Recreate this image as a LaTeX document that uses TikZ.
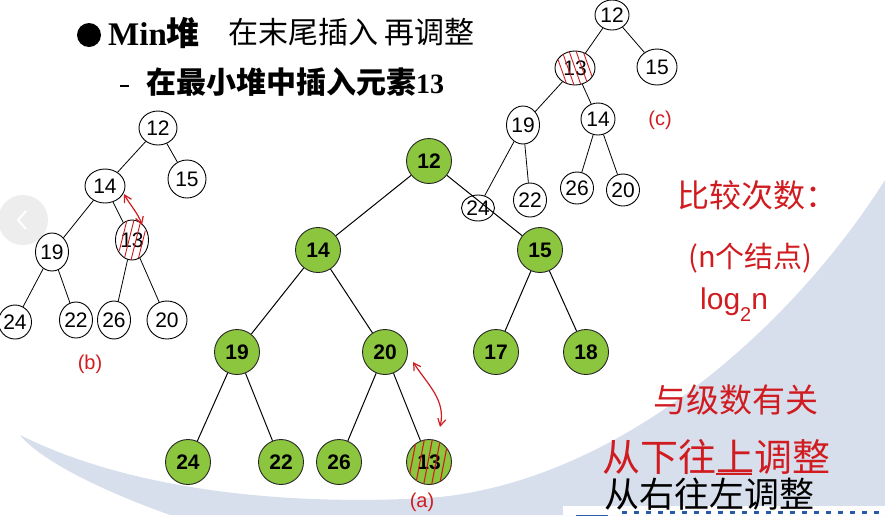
\documentclass[tikz,border=0pt]{standalone}
\usepackage{fontspec}
\setmainfont{Liberation Serif}
\newfontfamily\cjk{Noto Sans CJK SC}
\newfontfamily\arial{Liberation Sans}
\usetikzlibrary{arrows.meta,shapes.geometric}
\definecolor{hred}{RGB}{208,28,32}
\definecolor{ngreen}{RGB}{140,198,63}
\definecolor{swoosh}{RGB}{216,223,236}
\definecolor{logoblue}{RGB}{40,90,170}
\begin{document}
\begin{tikzpicture}[x=1pt,y=-1pt,
  gnode/.style={circle,fill=ngreen,draw=black!85,line width=0.9pt,minimum size=45pt,inner sep=0pt,font=\arial\bfseries\fontsize{21}{21}\selectfont},
  hnode/.style={ellipse,draw=black,line width=0.9pt,inner sep=0pt,font=\arial\fontsize{21}{21}\selectfont},
  gedge/.style={draw=black,line width=1pt},
  hedge/.style={draw=black,line width=0.8pt},
  hatch/.style={draw=hred,line width=0.9pt},
  redarrow/.style={draw=hred,line width=1.2pt,{Straight Barb[length=7pt,width=8pt]}-{Straight Barb[length=7pt,width=8pt]}},
  hand/.style={anchor=west,inner sep=0pt},
]
\useasboundingbox (0,0) rectangle (885,515);
% background swoosh
\fill[swoosh] (20,435) .. controls (150,500) and (330,505) .. (440,497)
  .. controls (620,478) and (790,330) .. (885,180) -- (885,515) -- (170,515)
  .. controls (100,490) and (40,460) .. (20,435) -- cycle;
\fill[white] (563,506) rectangle (885,515);
\fill[logoblue] (576,515) arc[start angle=180,end angle=0,x radius=16,y radius=8] -- cycle;
\draw[logoblue,line width=3pt,dash pattern=on 5pt off 7pt] (622,512) -- (885,512);
% slide navigation circle
\fill[black!7] (23,220) circle (25);
\draw[white,line width=2pt] (26,211) -- (18,220) -- (26,229);

% title
\fill[black] (89,35) circle (12);
\node[anchor=base west,inner sep=0pt,font=\bfseries\fontsize{33}{33}\selectfont] (title) at (108,45) {Min{\cjk 堆}};
\draw[black,line width=1.6pt] (120,86) -- (129,86);
\node[anchor=base west,inner sep=0pt] (sub) at (146,93) {{\cjk\bfseries\fontsize{30}{30}\selectfont 在最小堆中插入元素}{\bfseries\fontsize{28}{28}\selectfont 13}};

% main green tree
\node[gnode] (g12) at (429,161) {12};
\node[gnode] (g14) at (318,250) {14};
\node[gnode] (g15) at (540,250) {15};
\node[gnode] (g19) at (237,352) {19};
\node[gnode] (g20) at (385,352) {20};
\node[gnode] (g17) at (496,352) {17};
\node[gnode] (g18) at (586,352) {18};
\node[gnode] (g24) at (188,462) {24};
\node[gnode] (g22) at (281,462) {22};
\node[gnode] (g26) at (339,462) {26};
\node[gnode] (g13) at (429,462) {13};
\foreach \a/\b in {g12/g14,g12/g15,g14/g19,g14/g20,g15/g17,g15/g18,g19/g24,g19/g22,g20/g26,g20/g13}
  \draw[gedge] (\a) -- (\b);
\begin{scope}
  \clip (g13.center) circle (22.5);
  \foreach \dx in {-16,-8,0,8,16,24}
    \draw[hatch,line width=1.1pt] ([xshift=\dx pt-6pt,yshift=-26pt]g13.center) -- ([xshift=\dx pt+4pt,yshift=26pt]g13.center);
\end{scope}

% hand-drawn tree (b)
\node[hnode,minimum width=38pt,minimum height=34pt] (b12) at (158,128) {12};
\node[hnode,minimum width=38pt,minimum height=38pt] (b15) at (187,179) {15};
\node[hnode,minimum width=40pt,minimum height=34pt] (b14) at (105,186) {14};
\node[hnode,minimum width=30pt,minimum height=40pt] (b13) at (132,240) {13};
\node[hnode,minimum width=32pt,minimum height=38pt] (b19) at (52,252) {19};
\node[hnode,minimum width=28pt,minimum height=34pt] (b24) at (15,322) {24};
\node[hnode,minimum width=28pt,minimum height=36pt] (b22) at (76,320) {22};
\node[hnode,minimum width=28pt,minimum height=38pt] (b26) at (114,320) {26};
\node[hnode,minimum width=40pt,minimum height=38pt] (b20) at (167,320) {20};
\foreach \a/\b in {b12/b14,b12/b15,b14/b19,b14/b13,b19/b24,b19/b22,b13/b26,b13/b20}
  \draw[hedge] (\a) -- (\b);
\begin{scope}
  \clip (b13.center) ellipse[x radius=15,y radius=20];
  \foreach \dx in {-10,-3,4,11}
    \draw[hatch] ([xshift=\dx pt-5pt,yshift=-20pt]b13.center) -- ([xshift=\dx pt+5pt,yshift=20pt]b13.center);
\end{scope}
\draw[redarrow] (124,194) .. controls (130,205) and (138,213) .. (142,225);
\node[inner sep=0pt,text=hred,font=\arial\fontsize{20}{20}\selectfont] (lb) at (90,364) {(b)};

% hand-drawn tree (c)
\node[hnode,minimum width=34pt,minimum height=30pt] (c12) at (612,15) {12};
\node[hnode,minimum width=40pt,minimum height=34pt] (c13) at (575,68) {13};
\node[hnode,minimum width=40pt,minimum height=36pt] (c15) at (657,67) {15};
\node[hnode,minimum width=26pt,minimum height=38pt] (c19) at (523,125) {19};
\node[hnode,minimum width=34pt,minimum height=32pt] (c14) at (598,119) {14};
\node[hnode,minimum width=26pt,minimum height=26pt] (c24) at (478,208) {24};
\node[hnode,minimum width=30pt,minimum height=34pt] (c22) at (530,200) {22};
\node[hnode,minimum width=26pt,minimum height=32pt] (c26) at (577,188) {26};
\node[hnode,minimum width=28pt,minimum height=32pt] (c20) at (623,190) {20};
\foreach \a/\b in {c12/c13,c12/c15,c13/c19,c13/c14,c19/c24,c19/c22,c14/c26,c14/c20}
  \draw[hedge] (\a) -- (\b);
\begin{scope}
  \clip (c13.center) ellipse[x radius=20,y radius=17];
  \foreach \dx in {-14,-7,0,7,14}
    \draw[hatch] ([xshift=\dx pt-6pt,yshift=17pt]c13.center) -- ([xshift=\dx pt+6pt,yshift=-17pt]c13.center);
\end{scope}
\node[inner sep=0pt,text=hred,font=\arial\fontsize{20}{20}\selectfont] (lc) at (660,120) {(c)};

% annotations on tree (a)
\draw[redarrow] (413,362) .. controls (428,385) and (446,400) .. (440,427);
\node[inner sep=0pt,text=hred,font=\arial\fontsize{20}{20}\selectfont] (la) at (422,502) {(a)};

% handwritten notes
\node[hand,font=\cjk\fontsize{30}{30}\selectfont] (n0) at (228,32) {在末尾插入\hspace{6pt}再调整};
\node[hand,text=hred,font=\cjk\fontsize{32}{32}\selectfont] (n1) at (677,195) {比较次数：};
\node[hand,text=hred,font=\cjk\fontsize{29}{29}\selectfont] (n2) at (688,258) {(n个结点)};
\node[hand,text=hred,font=\arial\fontsize{30}{30}\selectfont] (n3) at (700,305) {log\raisebox{-12pt}{\fontsize{20}{20}\selectfont 2}n};
\node[hand,text=hred,font=\cjk\fontsize{33}{33}\selectfont] (n4) at (653,400) {与级数有关};
\node[hand,text=hred,font=\cjk\fontsize{38}{38}\selectfont] (n5) at (602,457) {从下往上调整};
\draw[hred,line width=1.2pt] (716,474) -- (752,474);
\node[hand,font=\cjk\fontsize{35}{35}\selectfont] (n6) at (604,494) {从右往左调整};
\end{tikzpicture}
\end{document}
